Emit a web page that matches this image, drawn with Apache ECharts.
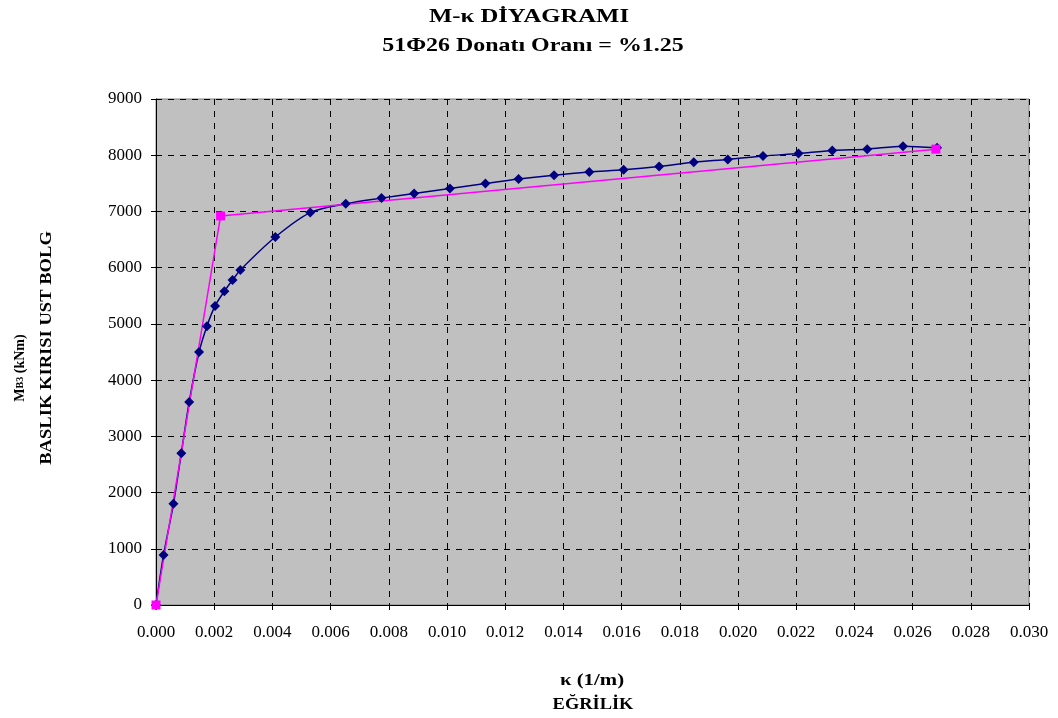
<!DOCTYPE html>
<html>
<head>
<meta charset="utf-8">
<script src="https://cdn.jsdelivr.net/npm/echarts@6/dist/echarts.min.js"></script>
<style>
  html, body { margin: 0; padding: 0; background: #fff; }
  #chart { width: 1058px; height: 718px; }
</style>
</head>
<body>
<div id="chart"></div>
<script>
// Curvature (1/m) and moment (kNm) of the section analysis
const curvature = [0, 0.00026, 0.0006, 0.00087, 0.00114, 0.00148, 0.00175, 0.00203, 0.00235, 0.00263,
  0.0029, 0.0041, 0.0053, 0.00652, 0.00775, 0.00887, 0.0101, 0.01132, 0.01246, 0.01368,
  0.01489, 0.01607, 0.01729, 0.01848, 0.01965, 0.02086, 0.02208, 0.02324, 0.02444, 0.02567, 0.02684];
const moment = [0, 890, 1800, 2700, 3610, 4500, 4960, 5320, 5580, 5780,
  5960, 6545, 6980, 7135, 7237, 7320, 7410, 7497, 7575, 7645,
  7700, 7740, 7800, 7877, 7925, 7985, 8032, 8085, 8108, 8160, 8131];

// Idealised bilinear curve
const bilinearX = [0, 0.00222, 0.0268];
const bilinearY = [0, 6920, 8108];

const xTicks = { min: 0, max: 0.030, interval: 0.002 };
const yTicks = { min: 0, max: 9000, interval: 1000 };

const serif = '"Liberation Serif", "Times New Roman", serif';

function label(text, x, y, size, scaleX, rotate) {
  return {
    type: 'text', x: x, y: y, scaleX: scaleX, rotation: rotate ? Math.PI / 2 : 0,
    style: { text: text, align: 'center', verticalAlign: 'middle',
      font: 'bold ' + size + 'px ' + serif, fill: '#000' }
  };
}

const chart = echarts.init(document.getElementById('chart'));
chart.setOption({
  animation: false,
  backgroundColor: '#ffffff',
  grid: { left: 156, right: 29, top: 99, bottom: 113, show: true,
    backgroundColor: '#C0C0C0', borderColor: '#808080', borderWidth: 1 },
  xAxis: {
    type: 'value', min: xTicks.min, max: xTicks.max, interval: xTicks.interval,
    axisLine: { show: true, onZero: false, lineStyle: { color: '#000', width: 1 } },
    axisTick: { show: true, inside: false, length: 5, lineStyle: { color: '#000' } },
    axisLabel: { margin: 19, fontFamily: serif, fontSize: 17, color: '#000',
      formatter: v => v.toFixed(3) },
    splitLine: { show: true, lineStyle: { color: '#000', type: [6, 6], width: 1 } }
  },
  yAxis: {
    type: 'value', min: yTicks.min, max: yTicks.max, interval: yTicks.interval,
    axisLine: { show: true, lineStyle: { color: '#000', width: 1 } },
    axisTick: { show: true, inside: false, length: 5, lineStyle: { color: '#000' } },
    axisLabel: { margin: 14, fontFamily: serif, fontSize: 17, color: '#000',
      formatter: v => String(v) },
    splitLine: { show: true, lineStyle: { color: '#000', type: [6, 6], width: 1 } }
  },
  graphic: [
    label('M-κ DİYAGRAMI', 529, 17, 19, 1.3, false),
    label('51Φ26 Donatı Oranı = %1.25', 533, 46, 19, 1.26, false),
    { type: 'text', x: 20, y: 368, rotation: Math.PI / 2,
      style: { text: '{a|M}{b|B3}{a| (kNm)}', align: 'center', verticalAlign: 'middle',
        rich: {
          a: { fontFamily: serif, fontSize: 14, fontWeight: 'bold', fill: '#000' },
          b: { fontFamily: serif, fontSize: 10, fontWeight: 'bold', fill: '#000' }
        } } },
    label('BASLIK KIRISI UST BOLG', 47, 348, 16, 1.16, true),
    label('κ (1/m)', 592, 681, 16, 1.3, false),
    label('EĞRİLİK', 593, 705, 16, 1.15, false)
  ],
  series: [
    {
      type: 'line', smooth: 0.3,
      data: curvature.map((x, i) => [x, moment[i]]),
      symbol: 'diamond', symbolSize: 10,
      lineStyle: { color: '#000080', width: 1.5 },
      itemStyle: { color: '#000080' }
    },
    {
      type: 'line',
      data: bilinearX.map((x, i) => [x, bilinearY[i]]),
      symbol: 'rect', symbolSize: 9,
      lineStyle: { color: '#FF00FF', width: 1.5 },
      itemStyle: { color: '#FF00FF' }
    }
  ]
});
</script>
</body>
</html>
